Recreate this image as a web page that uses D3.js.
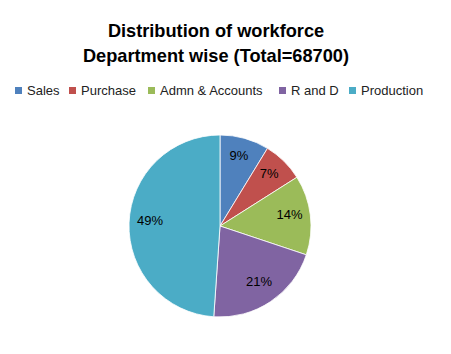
<!DOCTYPE html>
<html>
<head>
    <script src="https://d3js.org/d3.v7.min.js"></script>
    <style>
        body { margin: 0; background: #fff; }
    </style>
</head>
<body>
    <svg width="451" height="354" id="mainSvg"></svg>
    <script>
        // departments and head count (total 68700)
        const departments = ["Sales", "Purchase", "Admn & Accounts", "R and D", "Production"];
        const headcount = [6000, 5000, 9700, 14400, 33600];
        const colors = ["#4F81BD", "#C0504D", "#9BBB59", "#8064A2", "#4BACC6"];
        const titleLines = ["Distribution of workforce", "Department wise (Total=68700)"];

        const svg = d3.select("#mainSvg");
        const font = "'Liberation Sans', Arial, sans-serif";

        const data = departments.map((name, i) => ({ name, value: headcount[i] }));
        const total = d3.sum(headcount);

        // title
        svg.append("g").selectAll("text")
            .data(titleLines)
            .join("text")
            .attr("x", 216)
            .attr("y", (d, i) => 37 + i * 25)
            .attr("text-anchor", "middle")
            .attr("font-family", font)
            .attr("font-weight", "bold")
            .attr("font-size", 18.2)
            .attr("fill", "#000")
            .text(d => d);

        // legend
        const legendX = [15, 69, 148, 279, 349];
        const legend = svg.append("g").selectAll("g")
            .data(data)
            .join("g")
            .attr("transform", (d, i) => `translate(${legendX[i]}, 87)`);

        legend.append("rect")
            .attr("width", 7)
            .attr("height", 7)
            .attr("fill", (d, i) => colors[i]);

        legend.append("text")
            .attr("x", 12)
            .attr("y", 8)
            .attr("font-family", font)
            .attr("font-size", 13)
            .attr("fill", "#222")
            .text(d => d.name);

        // pie
        const radius = 91;
        const g = svg.append("g").attr("transform", "translate(220, 226)");

        const pie = d3.pie().sort(null).value(d => d.value);
        const arc = d3.arc().innerRadius(0).outerRadius(radius);
        const labelArc = d3.arc().innerRadius(radius * 0.77).outerRadius(radius * 0.77);

        const arcs = pie(data);

        g.selectAll("path")
            .data(arcs)
            .join("path")
            .attr("d", arc)
            .attr("fill", (d, i) => colors[i])
            .attr("stroke", "#fff")
            .attr("stroke-width", 0.8);

        g.selectAll(".lbl")
            .data(arcs)
            .join("text")
            .attr("class", "lbl")
            .attr("transform", d => {
                const [x, y] = labelArc.centroid(d);
                return `translate(${x}, ${y - 3})`;
            })
            .attr("text-anchor", "middle")
            .attr("dominant-baseline", "central")
            .attr("font-family", font)
            .attr("font-size", 13)
            .attr("fill", "#000")
            .text(d => Math.round(d.data.value / total * 100) + "%");
    </script>
</body>
</html>
